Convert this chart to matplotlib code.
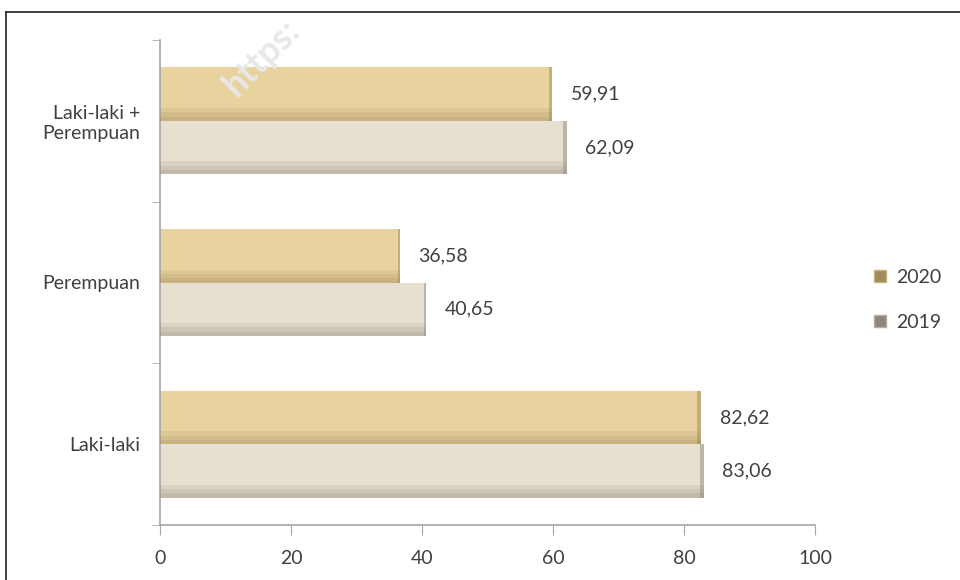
import matplotlib
matplotlib.use("Agg")
import matplotlib.pyplot as plt
import numpy as np
from matplotlib.lines import Line2D

categories = ["Laki-laki", "Perempuan", "Laki-laki +\nPerempuan"]
values_2019 = [83.06, 40.65, 62.09]
values_2020 = [82.62, 36.58, 59.91]
series_names = ["2020", "2019"]
x_ticks = [0, 20, 40, 60, 80, 100]

plt.rcParams['font.family'] = ['Lato', 'DejaVu Sans']
FS = 14

fig = plt.figure(figsize=(9.6, 5.8), dpi=100)
ax = fig.add_axes([160/960, 1-525/580, (815-160)/960, (525-40)/580])

y = np.arange(len(categories))
h = 0.33
c2020 = "#e8d39f"
c2019 = "#e7e0d1"
e2020 = "#a08a5c"
e2019 = "#948c7e"

b19 = ax.barh(y - h/2, values_2019, height=h, color=c2019, edgecolor="none", zorder=2)
b20 = ax.barh(y + h/2, values_2020, height=h, color=c2020, edgecolor="none", zorder=2)

# shading on bottom and right edges to mimic bevel
for bars, ec in ((b19, e2019), (b20, e2020)):
    for r in bars:
        x0, y0 = r.get_x(), r.get_y()
        w, hh = r.get_width(), r.get_height()
        for k, a in enumerate((0.45, 0.3, 0.15)):
            ax.barh(y0 + hh*(0.04 + 0.08*k), w, height=hh*0.08, color=ec, alpha=a,
                    edgecolor="none", zorder=3)
        ax.barh(y0 + hh/2, w*0.008, left=x0 + w*0.992, height=hh, color=ec, alpha=0.5,
                edgecolor="none", zorder=3)

for vals, off in ((values_2019, -h/2), (values_2020, h/2)):
    for i, v in enumerate(vals):
        ax.text(v + 2.8, i + off, f"{v:.2f}".replace(".", ","), va="center", ha="left",
                fontsize=FS, color="#404040")

ax.set_xlim(0, 100)
ax.set_ylim(-0.5, 2.5)
ax.set_xticks(x_ticks)
ax.set_xticklabels([str(t) for t in x_ticks], fontsize=FS, color="#404040")
ax.set_yticks(y)
ax.set_yticklabels(categories, fontsize=FS, color="#404040")
ax.tick_params(axis="y", length=0, pad=14)
ax.tick_params(axis="x", length=7, color="#a6a6a6", pad=11, direction="out")
ax.set_yticks([-0.5, 0.5, 1.5, 2.5], minor=True)
ax.tick_params(axis="y", which="minor", length=6, color="#a6a6a6")
for s in ("top", "right"):
    ax.spines[s].set_visible(False)
for s in ("left", "bottom"):
    ax.spines[s].set_color("#a6a6a6")
    ax.spines[s].set_linewidth(1.2)

handles = [Line2D([], [], marker="s", linestyle="none", markersize=8,
                  markerfacecolor="#a08c5e", markeredgecolor="#c8b27a"),
           Line2D([], [], marker="s", linestyle="none", markersize=8,
                  markerfacecolor="#8e877c", markeredgecolor="#b5ae9f")]
fig.legend(handles, series_names, loc="center left", bbox_to_anchor=(853/960, 1-300/580),
           frameon=False, fontsize=FS, labelspacing=1.45, handletextpad=0.3,
           handlelength=1.0, labelcolor="#404040")

# outer frame lines (top and left)
fig.add_artist(Line2D([6/960, 1], [1-12/580, 1-12/580], color="#202020", lw=1.2, transform=fig.transFigure))
fig.add_artist(Line2D([6/960, 6/960], [0, 1-12/580], color="#202020", lw=1.2, transform=fig.transFigure))

# faint watermark
fig.text(262/960, 1-58/580, "https:", rotation=45, fontsize=26, fontweight="bold",
         color="#e8e8e8", ha="center", va="center", zorder=0)

fig.savefig("out.png", dpi=100)
